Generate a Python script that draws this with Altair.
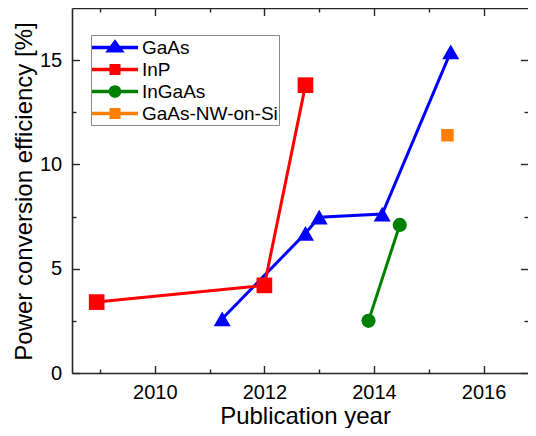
import altair as alt
import pandas as pd

# ---- data ----
series = ["GaAs", "InP", "InGaAs", "GaAs-NW-on-Si"]
colors = ["#0000ff", "#ff0000", "#008000", "#ff8000"]

gaas_year = [2011.23, 2012.75, 2013.0, 2014.15, 2015.4]
gaas_eff = [2.6, 6.7, 7.47, 7.62, 15.4]
inp_year = [2008.94, 2012.0, 2012.75]
inp_eff = [3.4, 4.2, 13.8]
ingaas_year = [2013.9, 2014.47]
ingaas_eff = [2.5, 7.1]
nw_year = [2015.34]
nw_eff = [11.4]

x_major = [2010, 2012, 2014, 2016]
x_minor = [2009, 2011, 2013, 2015]
y_major = [0, 5, 10, 15]
y_minor = [2.5, 7.5, 12.5]

rows = []
for name, years, effs in [("GaAs", gaas_year, gaas_eff), ("InP", inp_year, inp_eff),
                          ("InGaAs", ingaas_year, ingaas_eff), ("GaAs-NW-on-Si", nw_year, nw_eff)]:
    for xv, yv in zip(years, effs):
        rows.append({"series": name, "year": xv, "eff": yv})
df = pd.DataFrame(rows)

FONT = "Liberation Sans"
INK = "#262626"

xs = alt.Scale(domain=[2008.49, 2016.81], nice=False, zero=False)
ys = alt.Scale(domain=[0, 17.5], nice=False, zero=False)
color_scale = alt.Scale(domain=series, range=colors)

common = dict(grid=False, domainColor=INK, domainWidth=1.6, tickColor=INK, tickWidth=1.4)


def axis(orient, values, tick, labels=False, domain=True, **kw):
    return alt.Axis(orient=orient, values=values, tickSize=alt.ExprRef(str(-tick)),
                    labels=labels, domain=domain, **common, **kw)


ax_x_bottom = axis("bottom", x_major, 7.5, labels=True, format="d",
                   labelPadding=17, labelFont=FONT, labelFontSize=20, labelColor="black",
                   title="Publication year", titleFont=FONT, titleFontSize=24,
                   titleFontWeight="normal", titleColor="black", titleX=233, titleY=50,
                   titleBaseline="alphabetic", titleAlign="center")
ax_y_left = axis("left", y_major, 7.5, labels=True, format="d",
                 labelPadding=17.8, labelFont=FONT, labelFontSize=20, labelColor="black",
                 title="Power conversion efficiency [%]", titleFont=FONT, titleFontSize=24,
                 titleFontWeight="normal", titleColor="black", titleX=-41, titleY=183,
                 titleAngle=270, titleBaseline="alphabetic", titleAlign="center")
ax_x_bottom_minor = axis("bottom", x_minor, 4, domain=False, title=None)
ax_y_left_minor = axis("left", y_minor, 4, domain=False, title=None)
ax_x_top = axis("top", x_major, 7.5, title=None)
ax_y_right = axis("right", y_major, 7.5, domain=False, title=None)
ax_x_top_minor = axis("top", x_minor, 4, domain=False, title=None)
ax_y_right_minor = axis("right", y_minor, 4, domain=False, title=None)

legend_paths = [
    "M-1,-0.15L3,-0.15L3,0.15L-1,0.15Z M1,-0.72L1.85,0.44L0.15,0.44Z",
    "M-1,-0.15L3,-0.15L3,0.15L-1,0.15Z M0.52,-0.48L1.48,-0.48L1.48,0.48L0.52,0.48Z",
    "M-1,-0.15L3,-0.15L3,0.15L-1,0.15Z M0.45,0A0.55,0.55 0 1,1 1.55,0A0.55,0.55 0 1,1 0.45,0Z",
    "M-1,-0.15L3,-0.15L3,0.15L-1,0.15Z M0.52,-0.48L1.48,-0.48L1.48,0.48L0.52,0.48Z",
]

leg = alt.Legend(orient="none", legendX=19, legendY=27, title=None, direction="vertical",
                 labelFont=FONT, labelFontSize=19, labelColor="black", labelOffset=27,
                 symbolSize=529, symbolStrokeWidth=0, symbolOpacity=1,
                 padding=1, rowPadding=0, strokeColor="#888888", fillColor="white")

base = alt.Chart(df)

lines = base.transform_filter(alt.datum.series != "GaAs-NW-on-Si").mark_line(strokeWidth=3).encode(
    x=alt.X("year:Q", scale=xs, axis=ax_x_bottom),
    y=alt.Y("eff:Q", scale=ys, axis=ax_y_left),
    color=alt.Color("series:N", scale=color_scale, legend=None),
)

points = base.mark_point(filled=True, opacity=1).encode(
    x=alt.X("year:Q", scale=xs, axis=ax_x_bottom_minor),
    y=alt.Y("eff:Q", scale=ys, axis=ax_y_left_minor),
    color=alt.Color("series:N", scale=color_scale, legend=None),
    shape=alt.Shape("series:N", scale=alt.Scale(domain=series,
                    range=["triangle-up", "square", "circle", "square"]), legend=None),
    size=alt.Size("series:N", scale=alt.Scale(domain=series, range=[290, 156, 210, 165]), legend=None),
)

legend_layer = base.mark_point(filled=True, opacity=0).encode(
    x=alt.X("year:Q", scale=xs, axis=ax_x_top),
    y=alt.Y("eff:Q", scale=ys, axis=ax_y_right),
    color=alt.Color("series:N", scale=color_scale, legend=leg),
    shape=alt.Shape("series:N", scale=alt.Scale(domain=series, range=legend_paths), legend=leg),
)

frame = base.mark_point(opacity=0).encode(
    x=alt.X("year:Q", scale=xs, axis=ax_x_top_minor),
    y=alt.Y("eff:Q", scale=ys, axis=ax_y_right_minor),
)

chart = (
    alt.layer(lines, points, legend_layer, frame)
    .resolve_scale(color="independent", shape="independent", size="independent")
    .resolve_axis(x="independent", y="independent")
    .properties(width=456, height=365, autosize=alt.AutoSizeParams(type="none"),
                padding={"left": 64, "top": 0, "right": 0, "bottom": 55})
    .configure_view(strokeWidth=0)
)

chart.save("out.html", embed_options={"renderer": "svg", "actions": False})
